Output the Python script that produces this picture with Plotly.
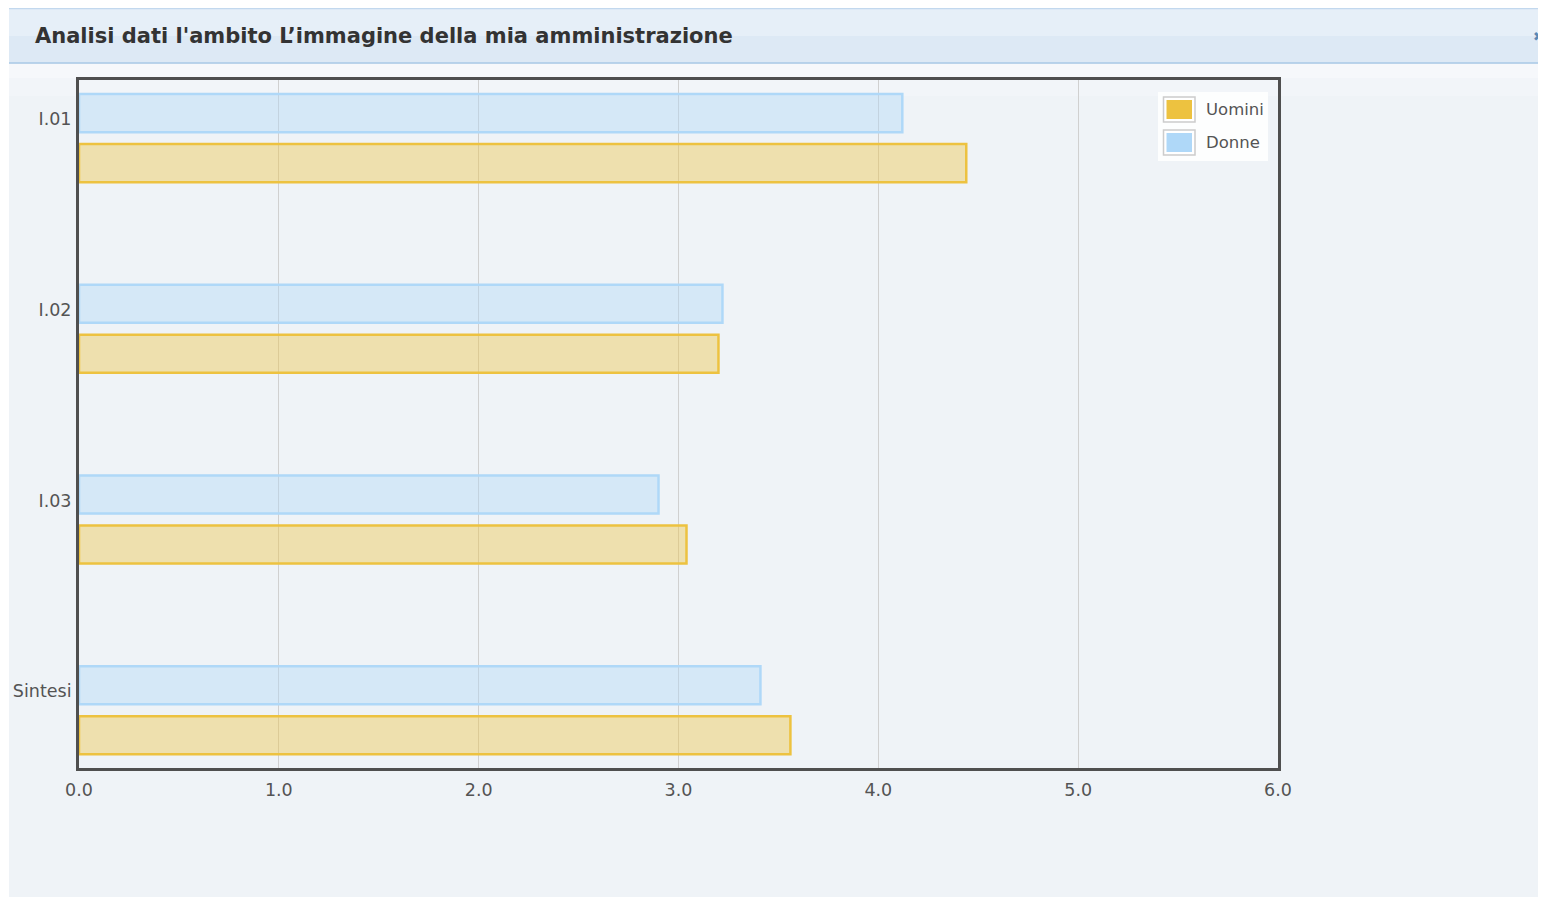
import plotly.graph_objects as go

# data
categories = ["I.01", "I.02", "I.03", "Sintesi"]
uomini = [4.44, 3.20, 3.04, 3.56]
donne = [4.12, 3.22, 2.90, 3.41]
x_ticks = [0, 1, 2, 3, 4, 5, 6]
x_tick_labels = ["0.0", "1.0", "2.0", "3.0", "4.0", "5.0", "6.0"]
legend_names = ["Uomini", "Donne"]
legend_colors = ["#edc240", "#afd8f8"]
title_text = "Analisi dati l'ambito L\u2019immagine della mia amministrazione"

# page has an 8px body margin, so work in page pixels and shift
OFF = 8
W, H = 1546 - OFF, 897 - OFF
L, R, T, B = 79, 1278, 80, 768   # plot area, page pixels
FONT = "DejaVu Sans, Verdana, sans-serif"


def px(x):
    return (x - L) / (R - L)


def py(y):
    return (B - y) / (B - T)


fig = go.Figure()

fig.add_trace(go.Bar(
    y=categories, x=donne, orientation="h", name="Donne",
    offset=-0.131, width=0.2,
    marker_color="rgba(175,216,248,0.4)",
    marker_line_color="#afd8f8", marker_line_width=2.5,
    showlegend=False,
))
fig.add_trace(go.Bar(
    y=categories, x=uomini, orientation="h", name="Uomini",
    offset=0.131, width=0.2,
    marker_color="rgba(237,194,64,0.4)",
    marker_line_color="#edc240", marker_line_width=2.5,
    showlegend=False,
))

shapes = [
    # panel background
    dict(type="rect", xref="paper", yref="paper", layer="below",
         x0=px(9), x1=px(1560), y0=py(910), y1=py(8),
         fillcolor="#eff3f7", line_width=0),
    # header bar
    dict(type="rect", xref="paper", yref="paper", layer="below",
         x0=px(9), x1=px(1560), y0=py(36), y1=py(8),
         fillcolor="#e6eff8", line_width=0),
    dict(type="rect", xref="paper", yref="paper", layer="below",
         x0=px(9), x1=px(1560), y0=py(63), y1=py(36),
         fillcolor="#dde9f5", line_width=0),
    dict(type="line", xref="paper", yref="paper", layer="below",
         x0=px(9), x1=px(1560), y0=py(8.5), y1=py(8.5),
         line=dict(color="#c2d8ee", width=1.5)),
    dict(type="line", xref="paper", yref="paper", layer="below",
         x0=px(9), x1=px(1560), y0=py(63), y1=py(63),
         line=dict(color="#a9c8e6", width=1.5)),
    # soft band under header
    dict(type="rect", xref="paper", yref="paper", layer="below",
         x0=px(9), x1=px(1560), y0=py(78), y1=py(64),
         fillcolor="#f6f8fb", line_width=0),
    dict(type="rect", xref="paper", yref="paper", layer="below",
         x0=px(9), x1=px(1560), y0=py(96), y1=py(78),
         fillcolor="#f2f5f9", line_width=0),
    # legend box
    dict(type="rect", xref="paper", yref="paper", layer="above",
         x0=px(1158), x1=px(1268), y0=py(161), y1=py(92),
         fillcolor="rgba(255,255,255,0.85)", line_width=0),
]

annotations = [
    dict(text="<b>" + title_text + "</b>", xref="paper", yref="paper",
         x=px(33), y=py(36), xanchor="left", yanchor="middle",
         showarrow=False, font=dict(family=FONT, size=21, color="#333333")),
    dict(text="\u2716", xref="paper", yref="paper",
         x=px(1546), y=py(36), xanchor="right", yanchor="middle",
         showarrow=False, font=dict(family=FONT, size=13, color="#5b88b5")),
]

# legend swatches + labels
for i, (nm, col) in enumerate(zip(legend_names, legend_colors)):
    top = 97 + i * 33
    shapes.append(dict(type="rect", xref="paper", yref="paper", layer="above",
                       x0=px(1163.5), x1=px(1195), y0=py(top + 25), y1=py(top),
                       fillcolor="rgba(255,255,255,0.9)",
                       line=dict(color="#cccccc", width=1.5)))
    shapes.append(dict(type="rect", xref="paper", yref="paper", layer="above",
                       x0=px(1166.5), x1=px(1192), y0=py(top + 22), y1=py(top + 3),
                       fillcolor=col, line_width=0))
    annotations.append(dict(text=nm, xref="paper", yref="paper",
                            x=px(1204), y=py(top + 12.5), xanchor="left",
                            yanchor="middle", showarrow=False,
                            font=dict(family=FONT, size=16.5, color="#545454")))

fig.update_layout(
    width=W, height=H,
    margin=dict(l=L - OFF, r=W - (R - OFF), t=T - OFF, b=H - (B - OFF)),
    paper_bgcolor="white",
    plot_bgcolor="rgba(0,0,0,0)",
    barmode="overlay",
    showlegend=False,
    shapes=shapes,
    annotations=annotations,
    font=dict(family=FONT, color="#545454", size=17),
    xaxis=dict(
        range=[0, 6], tickvals=x_ticks, ticktext=x_tick_labels,
        showgrid=True, gridcolor="#d0d0d0", gridwidth=1,
        showline=True, linecolor="#4f4f4f", linewidth=3, mirror=True,
        zeroline=False, ticks="", tickfont=dict(size=17.5, color="#545454"),
        ticklabelstandoff=4, automargin=False, fixedrange=True,
    ),
    yaxis=dict(
        type="category", range=[3.403, -0.2045],
        showgrid=False, showline=True, linecolor="#4f4f4f", linewidth=3,
        mirror=True, ticks="", tickfont=dict(size=17.5, color="#545454"),
        ticklabelstandoff=1, automargin=False, fixedrange=True,
    ),
)

fig.write_html("out.html")
